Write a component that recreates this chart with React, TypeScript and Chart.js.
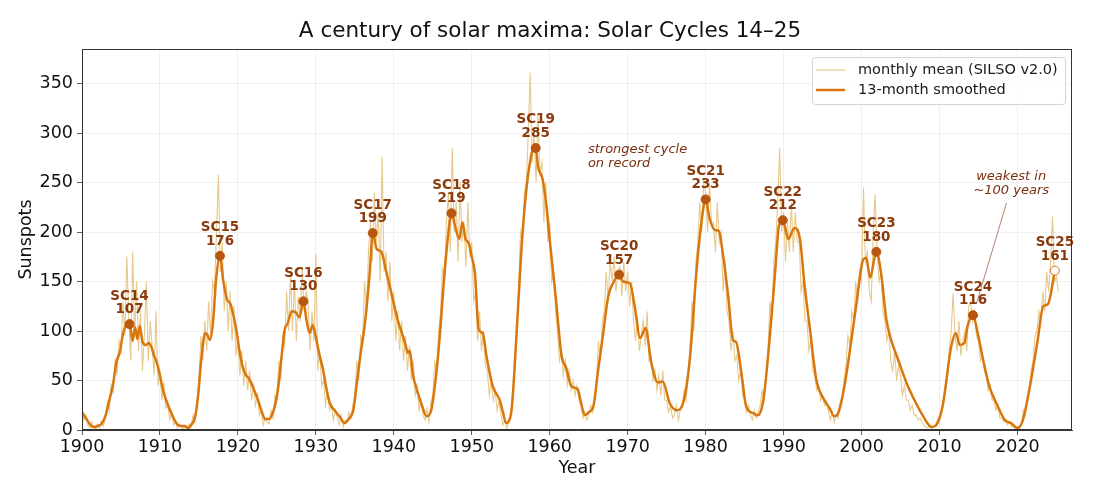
import { useEffect, useRef } from 'react';
import { Chart, registerables } from 'chart.js';

Chart.register(...registerables);

// monthly mean at quarter-year spacing (1900.00, 1900.25, ...)
const MONTHLY_START = 1900;
const MONTHLY_STEP = 0.25;
const MONTHLY_VALUES = [
  22, 10, 15, 5, 2, 8, 3, 1, 6, 2, 9, 4, 12, 28, 20, 45, 38, 72, 55, 90,
  80, 130, 95, 175, 115, 70, 180, 95, 150, 80, 120, 60, 95, 150, 70, 110, 85, 55, 120, 45,
  60, 30, 48, 22, 25, 10, 18, 5, 8, 2, 6, 3, 1, 4, 0, 6, 3, 15, 8, 28,
  50, 95, 70, 110, 80, 130, 95, 150, 140, 200, 258, 160, 190, 120, 150, 100, 140, 90, 125, 75,
  95, 55, 80, 45, 70, 40, 60, 30, 45, 25, 35, 15, 20, 5, 12, 8, 6, 20, 12, 35,
  30, 70, 50, 95, 85, 140, 100, 160, 100, 150, 90, 135, 110, 165, 120, 140, 130, 80, 120, 90,
  178, 60, 80, 45, 50, 25, 40, 20, 25, 10, 20, 12, 5, 15, 3, 10, 8, 18, 12, 25,
  35, 70, 50, 95, 90, 150, 120, 180, 210, 170, 240, 190, 220, 150, 276, 160, 180, 130, 170, 110,
  140, 90, 120, 80, 110, 70, 95, 60, 85, 50, 70, 35, 45, 20, 30, 15, 10, 22, 8, 28,
  35, 70, 55, 100, 120, 165, 150, 210, 240, 180, 285, 200, 230, 170, 250, 190, 210, 165, 230, 175,
  190, 130, 140, 90, 120, 80, 100, 65, 60, 35, 50, 30, 40, 20, 30, 15, 5, 10, 2, 8,
  15, 40, 55, 90, 140, 200, 190, 240, 250, 300, 361, 270, 300, 250, 320, 260, 270, 210, 250, 190,
  210, 150, 160, 120, 100, 70, 80, 55, 70, 45, 60, 40, 50, 35, 45, 30, 25, 12, 18, 10,
  15, 25, 18, 30, 50, 90, 70, 110, 120, 160, 130, 170, 150, 175, 140, 160, 165, 135, 170, 140,
  160, 125, 150, 110, 90, 115, 80, 95, 110, 85, 120, 70, 75, 50, 60, 40, 55, 35, 60, 30,
  30, 18, 25, 12, 15, 25, 10, 20, 25, 40, 30, 55, 80, 130, 100, 170, 190, 230, 200, 250,
  240, 200, 250, 210, 210, 180, 230, 190, 200, 140, 170, 120, 110, 80, 100, 70, 75, 50, 60, 35,
  30, 18, 25, 15, 10, 20, 12, 18, 25, 40, 30, 55, 80, 130, 110, 170, 190, 230, 285, 200,
  220, 170, 210, 180, 230, 180, 220, 190, 190, 140, 150, 110, 110, 80, 90, 60, 55, 40, 45, 30,
  35, 25, 30, 18, 10, 18, 8, 15, 12, 28, 30, 50, 65, 95, 85, 120, 110, 150, 130, 160,
  150, 245, 170, 180, 140, 130, 200, 238, 180, 150, 160, 120, 110, 90, 100, 70, 60, 80, 50, 65,
  55, 35, 45, 30, 30, 20, 25, 15, 15, 10, 12, 8, 5, 3, 2, 6, 2, 3, 6, 10,
  15, 20, 30, 40, 50, 80, 100, 138, 95, 80, 110, 75, 90, 100, 80, 125, 130, 110, 120, 95,
  90, 70, 75, 60, 55, 40, 45, 30, 30, 20, 25, 12, 12, 8, 10, 5, 8, 3, 4, 1,
  3, 1, 6, 20, 15, 30, 40, 60, 70, 95, 100, 120, 110, 140, 120, 160, 140, 170, 216, 150,
  155, 140,
];

// 13-month smoothed curve
const SMOOTH_YEARS = [
  1900.0, 1900.5, 1901.0, 1901.5, 1902.0, 1902.5, 1903.0, 1903.5, 1904.0, 1904.4,
  1904.9, 1905.2, 1905.6, 1906.1, 1906.5, 1906.8, 1907.1, 1907.4, 1907.8, 1908.2,
  1908.6, 1908.9, 1909.2, 1909.6, 1910.0, 1910.4, 1910.9, 1911.3, 1911.8, 1912.2,
  1912.7, 1913.2, 1913.6, 1914.0, 1914.5, 1914.9, 1915.3, 1915.8, 1916.1, 1916.4,
  1916.8, 1917.2, 1917.7, 1918.1, 1918.6, 1919.0, 1919.3, 1919.8, 1920.2, 1920.6,
  1921.0, 1921.5, 1922.1, 1922.6, 1923.0, 1923.5, 1924.0, 1924.4, 1924.8, 1925.2,
  1925.6, 1926.0, 1926.4, 1926.9, 1927.4, 1927.9, 1928.4, 1928.8, 1929.2, 1929.6,
  1930.0, 1930.4, 1930.9, 1931.4, 1931.8, 1932.4, 1933.0, 1933.7, 1934.2, 1934.8,
  1935.3, 1935.7, 1936.3, 1936.9, 1937.3, 1937.8, 1938.4, 1939.0, 1939.7, 1940.5,
  1941.2, 1941.5, 1941.8, 1942.0, 1942.5, 1943.1, 1943.6, 1944.2, 1944.8, 1945.5,
  1946.0, 1946.3, 1946.9, 1947.4, 1947.8, 1948.4, 1948.8, 1949.2, 1949.6, 1950.0,
  1950.4, 1950.9, 1951.4, 1951.9, 1952.7, 1953.6, 1954.0, 1954.4, 1955.1, 1955.7,
  1956.4, 1957.0, 1957.5, 1957.8, 1958.2, 1958.5, 1959.1, 1959.6, 1960.0, 1960.8,
  1961.5, 1962.1, 1962.8, 1963.6, 1964.0, 1964.5, 1965.0, 1965.6, 1966.2, 1966.8,
  1967.5, 1968.1, 1968.9, 1969.4, 1970.3, 1970.9, 1971.6, 1972.3, 1973.0, 1973.9,
  1974.5, 1975.4, 1976.3, 1977.1, 1978.0, 1978.8, 1979.5, 1980.0, 1980.5, 1981.2,
  1981.7, 1982.2, 1982.9, 1983.5, 1983.9, 1984.6, 1985.2, 1986.1, 1986.7, 1987.4,
  1988.2, 1988.9, 1989.4, 1989.9, 1990.6, 1991.4, 1992.1, 1992.7, 1993.4, 1994.2,
  1995.1, 1995.9, 1996.5, 1997.0, 1997.8, 1998.7, 1999.3, 2000.2, 2000.6, 2001.1,
  2001.9, 2002.5, 2003.2, 2003.8, 2004.7, 2005.8, 2006.8, 2007.9, 2009.0, 2009.6,
  2010.4, 2011.5, 2012.1, 2012.6, 2013.2, 2013.6, 2014.3, 2014.9, 2015.6, 2016.4,
  2017.3, 2018.4, 2019.2, 2020.0, 2020.7, 2021.6, 2022.6, 2023.3, 2023.9, 2024.8,
];
const SMOOTH_VALUES = [
  18, 12, 6, 3, 4, 6, 14, 30, 47, 68,
  80, 95, 105, 107, 90, 104, 92, 105, 88, 86,
  88, 84, 76, 68, 55, 40, 28, 20, 11, 6,
  4, 4, 2, 5, 13, 35, 71, 98, 96, 91,
  108, 152, 176, 152, 132, 128, 120, 101, 80, 64,
  56, 51, 40, 30, 20, 11, 11, 16, 26, 45,
  74, 101, 108, 120, 119, 114, 130, 111, 98, 106,
  94, 78, 62, 40, 27, 20, 14, 7, 11, 20,
  50, 75, 108, 158, 199, 183, 180, 161, 138, 111,
  94, 86, 78, 80, 54, 37, 25, 14, 20, 61,
  105, 138, 192, 219, 208, 193, 210, 193, 189, 175,
  159, 101, 98, 74, 44, 30, 18, 7, 20, 91,
  186, 243, 272, 283, 285, 266, 253, 225, 192, 132,
  76, 63, 44, 41, 28, 15, 18, 24, 60, 94,
  135, 148, 157, 150, 148, 125, 93, 103, 69, 48,
  49, 27, 20, 27, 74, 158, 212, 233, 214, 202,
  201, 179, 135, 91, 89, 57, 24, 17, 15, 30,
  91, 158, 206, 212, 193, 204, 193, 146, 101, 51,
  32, 22, 14, 17, 44, 91, 125, 172, 174, 154,
  180, 159, 111, 91, 71, 47, 30, 14, 3, 5,
  24, 84, 98, 86, 88, 105, 116, 98, 71, 44,
  27, 10, 7, 2, 10, 44, 91, 125, 127, 161,
];

// cycle maxima (SC25 still provisional)
const PEAK_CYCLES = ['SC14', 'SC15', 'SC16', 'SC17', 'SC18', 'SC19', 'SC20', 'SC21', 'SC22', 'SC23', 'SC24', 'SC25'];
const PEAK_YEARS = [1906.1, 1917.7, 1928.4, 1937.3, 1947.4, 1958.2, 1968.9, 1980.0, 1989.9, 2001.9, 2014.3, 2024.8];
const PEAK_VALUES = [107, 176, 130, 199, 219, 285, 157, 233, 212, 180, 116, 161];

const X_TICKS = [1900, 1910, 1920, 1930, 1940, 1950, 1960, 1970, 1980, 1990, 2000, 2010, 2020];
const Y_TICKS = [0, 50, 100, 150, 200, 250, 300, 350];

const FONT = '"DejaVu Sans", sans-serif';
const MONTHLY_COLOR = 'rgba(224, 188, 110, 0.8)';
const SMOOTH_COLOR = '#d9770f';
const DOT_COLOR = '#b8560f';
const LABEL_COLOR = '#8b3a0c';
const NOTE_COLOR = '#7b2e10';

const overlay = {
  id: 'overlay',
  afterDatasetsDraw(chart: any) {
    const { ctx, chartArea: area, scales } = chart;
    const sx = scales.x;
    const sy = scales.y;
    ctx.save();

    // annotation arrow for SC24
    const ax0 = sx.getPixelForValue(2018.6);
    const ay0 = sy.getPixelForValue(229.5);
    const ax1 = sx.getPixelForValue(PEAK_YEARS[10]);
    const ay1 = sy.getPixelForValue(PEAK_VALUES[10]);
    const len = Math.hypot(ax1 - ax0, ay1 - ay0);
    const k = (len - 12) / len;
    ctx.strokeStyle = 'rgba(140, 70, 40, 0.85)';
    ctx.lineWidth = 0.8;
    ctx.beginPath();
    ctx.moveTo(ax0, ay0);
    ctx.lineTo(ax0 + (ax1 - ax0) * k, ay0 + (ay1 - ay0) * k);
    ctx.stroke();

    // peak labels
    ctx.fillStyle = LABEL_COLOR;
    ctx.font = `bold 13.5px ${FONT}`;
    ctx.textAlign = 'center';
    ctx.textBaseline = 'middle';
    PEAK_CYCLES.forEach((name, i) => {
      const px = sx.getPixelForValue(PEAK_YEARS[i]);
      const py = sy.getPixelForValue(PEAK_VALUES[i]);
      ctx.fillText(name, px, py - 28);
      ctx.fillText(String(PEAK_VALUES[i]), px, py - 14.5);
    });

    // notes
    ctx.fillStyle = NOTE_COLOR;
    ctx.font = `italic 13px ${FONT}`;
    ctx.textAlign = 'left';
    const nx = sx.getPixelForValue(1964.9);
    const ny = sy.getPixelForValue(283);
    ctx.fillText('strongest cycle', nx, ny);
    ctx.fillText('on record', nx, ny + 13.6);
    ctx.textAlign = 'center';
    const wx = sx.getPixelForValue(2019.2);
    const wy = sy.getPixelForValue(256.5);
    ctx.fillText('weakest in', wx, wy);
    ctx.fillText('~100 years', wx, wy + 14);

    // legend
    const lw = 253;
    const lh = 47;
    const lx = area.right - 7 - lw;
    const ly = area.top + 8;
    ctx.fillStyle = 'rgba(255,255,255,0.85)';
    ctx.strokeStyle = '#d4d4d4';
    ctx.lineWidth = 1;
    ctx.beginPath();
    ctx.roundRect(lx + 0.5, ly + 0.5, lw, lh, 3);
    ctx.fill();
    ctx.stroke();
    const rows = [
      { text: 'monthly mean (SILSO v2.0)', color: MONTHLY_COLOR, width: 1.2 },
      { text: '13-month smoothed', color: SMOOTH_COLOR, width: 2.5 },
    ];
    ctx.font = `14.5px ${FONT}`;
    ctx.textAlign = 'left';
    rows.forEach((r, i) => {
      const ry = ly + 13 + i * 20;
      ctx.strokeStyle = r.color;
      ctx.lineWidth = r.width;
      ctx.beginPath();
      ctx.moveTo(lx + 4, ry);
      ctx.lineTo(lx + 33, ry);
      ctx.stroke();
      ctx.fillStyle = '#1a1a1a';
      ctx.fillText(r.text, lx + 46, ry);
    });
    ctx.restore();
  },
  afterDraw(chart: any) {
    const { ctx, chartArea: area } = chart;
    ctx.save();
    ctx.strokeStyle = '#333';
    ctx.lineWidth = 1;
    ctx.strokeRect(Math.round(area.left) + 0.5, Math.round(area.top) + 0.5,
      Math.round(area.width) - 1, Math.round(area.height) - 1);
    ctx.fillStyle = '#111';
    ctx.font = `21.5px ${FONT}`;
    ctx.textAlign = 'center';
    ctx.textBaseline = 'alphabetic';
    ctx.fillText('A century of solar maxima: Solar Cycles 14–25', chart.width / 2, 36.5);
    ctx.restore();
  },
};

const SolarCyclesChart = () => {
  const canvasRef = useRef<HTMLCanvasElement>(null);

  useEffect(() => {
    if (!canvasRef.current) return;
    Chart.defaults.font.family = FONT;

    const monthly = MONTHLY_VALUES.map((v, i) => ({ x: MONTHLY_START + i * MONTHLY_STEP, y: v }));
    const smooth = SMOOTH_YEARS.map((yr, i) => ({ x: yr, y: SMOOTH_VALUES[i] }));
    const peaks = PEAK_YEARS.map((yr, i) => ({ x: yr, y: PEAK_VALUES[i] }));
    const last = PEAK_YEARS.length - 1;

    const chart = new Chart(canvasRef.current, {
      type: 'line',
      data: {
        datasets: [
          {
            label: 'monthly mean (SILSO v2.0)',
            data: monthly,
            borderColor: MONTHLY_COLOR,
            borderWidth: 1.1,
            pointRadius: 0,
            tension: 0,
            order: 3,
          },
          {
            label: '13-month smoothed',
            data: smooth,
            borderColor: SMOOTH_COLOR,
            borderWidth: 2.5,
            pointRadius: 0,
            cubicInterpolationMode: 'monotone',
            order: 2,
          },
          {
            label: 'peaks',
            data: peaks,
            showLine: false,
            pointRadius: 4.5,
            pointBorderWidth: 1,
            pointBackgroundColor: (c: any) => (c.dataIndex === last ? '#ffffff' : DOT_COLOR),
            pointBorderColor: (c: any) => (c.dataIndex === last ? SMOOTH_COLOR : DOT_COLOR),
            order: 1,
          },
        ],
      },
      options: {
        animation: false,
        responsive: true,
        maintainAspectRatio: false,
        layout: { padding: { top: 49, right: 28, left: 0, bottom: 0 } },
        plugins: {
          legend: { display: false },
          tooltip: { enabled: false },
        },
        scales: {
          x: {
            type: 'linear',
            min: 1900,
            max: 2027,
            afterBuildTicks: (s: any) => {
              s.ticks = X_TICKS.map((v) => ({ value: v }));
            },
            afterFit: (s: any) => {
              s.height = 65;
            },
            ticks: {
              font: { size: 17.5 },
              color: '#111',
              padding: 2,
              maxRotation: 0,
              callback: (v: any) => String(v),
            },
            grid: { color: '#ececec', lineWidth: 0.8, tickColor: '#333', tickLength: 5 },
            border: { color: '#333', width: 1 },
            title: {
              display: true,
              text: 'Year',
              font: { size: 17.5 },
              color: '#111',
              padding: { top: 0, bottom: 16.5 },
            },
          },
          y: {
            min: 0,
            max: 385,
            afterBuildTicks: (s: any) => {
              s.ticks = Y_TICKS.map((v) => ({ value: v }));
            },
            afterFit: (s: any) => {
              s.width = 82;
            },
            ticks: {
              font: { size: 17.5 },
              color: '#111',
              padding: 4,
              callback: (v: any) => String(v),
            },
            grid: { color: '#ececec', lineWidth: 0.8, tickColor: '#333', tickLength: 5 },
            border: { color: '#333', width: 1 },
            title: {
              display: true,
              text: 'Sunspots',
              font: { size: 17.5 },
              color: '#111',
              padding: { top: 15.5, bottom: 0 },
            },
          },
        },
      },
      plugins: [overlay],
    });

    return () => {
      chart.destroy();
    };
  }, []);

  return (
    <div style={{ position: 'absolute', left: 0, top: 0, width: 1100, height: 495, background: '#fff' }}>
      <canvas ref={canvasRef} />
    </div>
  );
};

export default function App() {
  return <SolarCyclesChart />;
}
